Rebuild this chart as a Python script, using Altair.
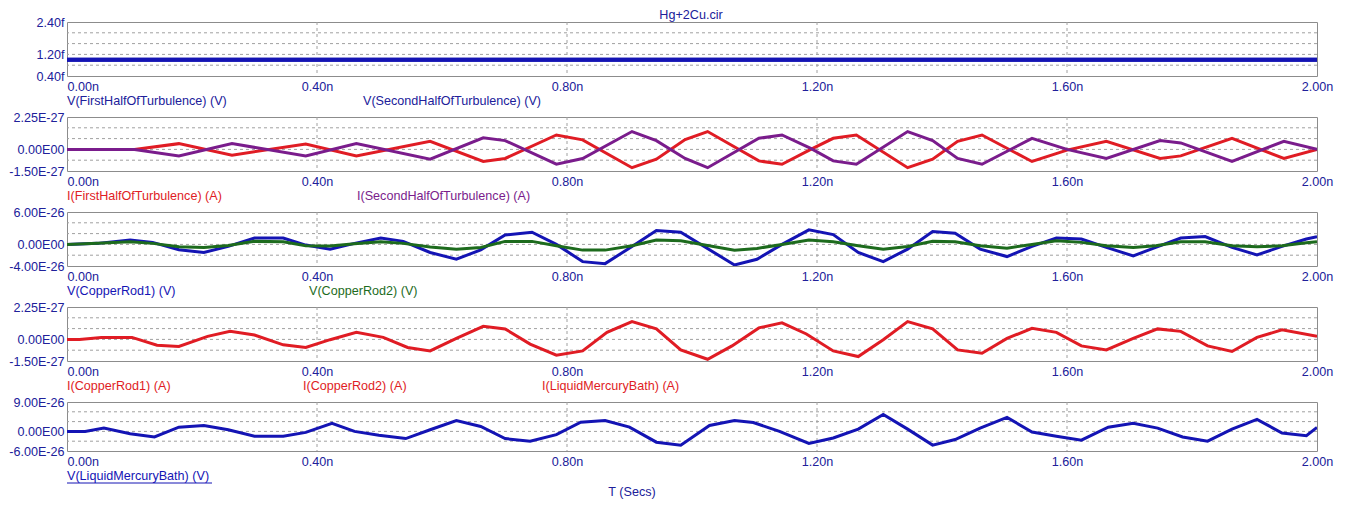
import altair as alt
import pandas as pd

# ---------------- data ----------------
x_ticks = [0.0, 0.4, 0.8, 1.2, 1.6, 2.0]          # ns
x_grid = [0.4, 0.8, 1.2, 1.6]

# Panel 1 (values in fV)
p1_t = [0.0, 2.0]
p1_first = [1.0, 1.0]
p1_second = [1.0, 1.0]
p1_domain = [0.4, 2.4]
p1_ticks = [0.4, 1.2, 2.4]
p1_labels = ["0.40f", "1.20f", "2.40f"]
p1_grid = [0.8, 1.2, 1.6, 2.0]
p1_names = ["V(FirstHalfOfTurbulence) (V)", "V(SecondHalfOfTurbulence) (V)"]

# Panel 2 (values in 1E-27 A)
p2_t = [0, 0.108, 0.179, 0.264, 0.382, 0.463, 0.581, 0.666, 0.701, 0.783, 0.825,
        0.904, 0.943, 0.989, 1.025, 1.107, 1.144, 1.190, 1.226, 1.263, 1.345, 1.385,
        1.425, 1.464, 1.544, 1.600, 1.663, 1.749, 1.782, 1.864, 1.947, 2.000]
p2_first = [0, 0, 0.40, -0.40, 0.375, -0.45, 0.56, -0.84, -0.63, 1.0, 0.66, -1.27,
            -0.68, 0.68, 1.24, -0.80, -1.03, 0, 0.77, 1.0, -1.27, -0.68, 0.56, 1.0,
            -0.84, -0.05, 0.56, -0.63, -0.45, 0.77, -0.63, 0]
p2_second = [0, 0, -0.45, 0.40, -0.45, 0.40, -0.68, 0.80, 0.61, -1.03, -0.63, 1.24,
             0.61, -0.63, -1.27, 0.77, 1.0, 0.07, -0.80, -1.03, 1.24, 0.61, -0.63,
             -1.03, 0.77, 0.0, -0.63, 0.61, 0.45, -0.84, 0.56, 0]
p2_domain = [-1.5, 2.25]
p2_ticks = [-1.5, 0.0, 2.25]
p2_labels = ["-1.50E-27", "0.00E00", "2.25E-27"]
p2_grid = [-0.75, 0.0, 0.75, 1.5]
p2_names = ["I(FirstHalfOfTurbulence) (A)", "I(SecondHalfOfTurbulence) (A)"]

# Panel 3 (values in 1E-26 V)
p3_t = [0, 0.049, 0.101, 0.137, 0.179, 0.219, 0.258, 0.300, 0.346, 0.382, 0.421,
        0.460, 0.502, 0.538, 0.581, 0.623, 0.662, 0.701, 0.744, 0.783, 0.825, 0.861,
        0.904, 0.943, 0.982, 1.068, 1.104, 1.144, 1.187, 1.226, 1.266, 1.306, 1.345,
        1.385, 1.421, 1.461, 1.504, 1.544, 1.583, 1.623, 1.663, 1.706, 1.742, 1.782,
        1.821, 1.864, 1.904, 1.944, 1.983, 2.0]
p3_rod1 = [0, 0.19, 0.81, 0.375, -1.0, -1.5, -0.375, 1.19, 1.19, -0.125, -0.875, 0.19,
           1.19, 0.56, -1.5, -2.75, -1.0, 1.75, 2.25, 0.0, -3.19, -3.56, -0.375, 2.56,
           2.25, -3.81, -2.75, 0.0, 2.69, 1.81, -1.5, -3.19, -0.875, 2.375, 2.06,
           -0.875, -2.25, -0.375, 1.19, 1.0, -0.56, -2.125, -0.56, 1.19, 1.44, -0.56,
           -1.94, -0.375, 1.0, 1.44]
p3_rod2 = [0, 0.19, 0.5, 0.19, -0.44, -0.56, -0.2, 0.56, 0.5, -0.25, -0.31, 0.1, 0.5,
           0.19, -0.5, -0.875, -0.56, 0.56, 0.56, -0.25, -1.06, -1.06, -0.25, 0.81,
           0.69, -1.06, -0.75, 0.0, 0.81, 0.5, -0.25, -0.875, -0.375, 0.56, 0.5, -0.25,
           -0.69, 0.0, 0.69, 0.375, -0.25, -0.56, -0.25, 0.5, 0.5, -0.25, -0.44, -0.25,
           0.3, 0.5]
p3_domain = [-4.0, 6.0]
p3_ticks = [-4.0, 0.0, 6.0]
p3_labels = ["-4.00E-26", "0.00E00", "6.00E-26"]
p3_grid = [-2.0, 0.0, 2.0, 4.0]
p3_names = ["V(CopperRod1) (V)", "V(CopperRod2) (V)"]

# Panel 4 (values in 1E-27 A)
p4_t = [0, 0.020, 0.055, 0.104, 0.144, 0.179, 0.225, 0.261, 0.300, 0.346, 0.382,
        0.421, 0.463, 0.506, 0.545, 0.581, 0.623, 0.666, 0.701, 0.741, 0.783, 0.825,
        0.864, 0.904, 0.943, 0.982, 1.025, 1.064, 1.107, 1.144, 1.183, 1.226, 1.266,
        1.306, 1.345, 1.385, 1.425, 1.464, 1.504, 1.544, 1.583, 1.623, 1.663, 1.706,
        1.745, 1.782, 1.825, 1.864, 1.904, 1.944, 2.0]
p4_current = [0, 0, 0.14, 0.14, -0.40, -0.49, 0.21, 0.56, 0.30, -0.375, -0.56, -0.02,
              0.49, 0.14, -0.56, -0.80, 0.07, 0.91, 0.73, -0.33, -1.10, -0.80, 0.49,
              1.24, 0.73, -0.73, -1.38, -0.45, 0.80, 1.15, 0.375, -0.80, -1.19, -0.02,
              1.24, 0.73, -0.73, -0.96, 0.07, 0.77, 0.49, -0.45, -0.73, 0.07, 0.73,
              0.56, -0.45, -0.84, 0.14, 0.66, 0.21]
p4_domain = [-1.5, 2.25]
p4_ticks = [-1.5, 0.0, 2.25]
p4_labels = ["-1.50E-27", "0.00E00", "2.25E-27"]
p4_grid = [-0.75, 0.0, 0.75, 1.5]
p4_names = ["I(CopperRod1) (A)", "I(CopperRod2) (A)", "I(LiquidMercuryBath) (A)"]

# Panel 5 (values in 1E-26 V)
p5_t = [0, 0.029, 0.059, 0.101, 0.140, 0.179, 0.219, 0.258, 0.300, 0.346, 0.382,
        0.424, 0.460, 0.499, 0.542, 0.581, 0.623, 0.662, 0.701, 0.741, 0.783, 0.822,
        0.861, 0.900, 0.943, 0.982, 1.028, 1.068, 1.098, 1.140, 1.187, 1.226, 1.266,
        1.306, 1.345, 1.385, 1.421, 1.461, 1.504, 1.544, 1.583, 1.623, 1.666, 1.706,
        1.745, 1.785, 1.825, 1.864, 1.904, 1.944, 1.983, 2.0]
p5_bath = [0, 0, 1.0, -0.7, -1.7, 1.3, 1.8, 0.5, -1.5, -1.5, -0.3, 2.5, 0, -1.2, -2.2,
           0.5, 3.3, 1.5, -2.2, -3.0, -1.0, 2.8, 3.3, 1.3, -3.3, -4.2, 1.8, 3.3, 2.7,
           0, -3.7, -2.0, 0.7, 5.2, 0.7, -4.2, -2.5, 1.0, 4.3, -0.2, -1.5, -2.7, 1.3,
           2.5, 1.0, -1.7, -3.0, 0.7, 3.7, -0.5, -1.3, 1.2]
p5_domain = [-6.0, 9.0]
p5_ticks = [-6.0, 0.0, 9.0]
p5_labels = ["-6.00E-26", "0.00E00", "9.00E-26"]
p5_grid = [-3.0, 0.0, 3.0, 6.0]
p5_names = ["V(LiquidMercuryBath) (V)"]

title_text = "Hg+2Cu.cir"
x_title = "T (Secs)"

# ---------------- styling ----------------
FONT = "Liberation Sans"
FS = 12.6
AXIS_BLUE = "#20209a"
BLUE = "#1414b4"
RED = "#e01c24"
PURPLE = "#7a1c8c"
GREEN = "#1d6b1d"
GRID = "#a0a0a0"
BORDER = "#8c8c8c"
W = 1250
H = 54
H5 = 49


def x_enc():
    return alt.X(
        "t:Q",
        scale=alt.Scale(domain=[0, 2.0], nice=False, zero=False),
        axis=alt.Axis(
            values=x_ticks, title=None, grid=False, ticks=False, domain=False,
            labelExpr="format(datum.value, '.2f') + 'n'",
            labelFont=FONT, labelFontSize=FS, labelColor=AXIS_BLUE,
            labelPadding=4, labelFlush=False, labelOverlap=False,
            labelAlign={"condition": {"test": "datum.value == 0", "value": "left"},
                        "value": "center"},
        ),
    )


def y_enc(domain, ticks, labels):
    expr = ""
    for v, lab in zip(ticks[:-1], labels[:-1]):
        expr += f"datum.value == {v} ? '{lab}' : "
    expr += f"'{labels[-1]}'"
    return alt.Y(
        "v:Q",
        scale=alt.Scale(domain=domain, nice=False, zero=False),
        axis=alt.Axis(
            values=ticks, title=None, grid=False, ticks=False, domain=False,
            labelExpr=expr, labelFont=FONT, labelFontSize=FS, labelColor=AXIS_BLUE,
            labelPadding=3, labelOverlap=False, labelFlush=False,
        ),
    )


def text_layer(text, px, py, color, align="left", baseline="middle"):
    return alt.Chart(pd.DataFrame({"a": [0]})).mark_text(
        text=text, align=align, baseline=baseline, font=FONT, fontSize=FS, color=color
    ).encode(x=alt.value(px), y=alt.value(py))


def panel(domain, ticks, labels, grid, series, legends, height, extra=()):
    xe = x_enc()
    ye = y_enc(domain, ticks, labels)
    layers = [
        alt.Chart(pd.DataFrame({"v": grid})).mark_rule(
            color=GRID, strokeDash=[3, 3], strokeWidth=1).encode(y=ye),
        alt.Chart(pd.DataFrame({"t": x_grid})).mark_rule(
            color=GRID, strokeDash=[3, 3], strokeWidth=1).encode(x=xe),
    ]
    for t, v, color, sw in series:
        layers.append(
            alt.Chart(pd.DataFrame({"t": t, "v": v})).mark_line(
                color=color, strokeWidth=sw, clip=True).encode(x=xe, y=ye)
        )
    for name, px, color in legends:
        layers.append(text_layer(name, px, height + 25, color))
    layers.extend(extra)
    return alt.layer(*layers).properties(width=W, height=height)


underline = alt.Chart(pd.DataFrame({"a": [0]})).mark_rule(
    color=BLUE, strokeWidth=1
).encode(x=alt.value(0), x2=alt.value(145), y=alt.value(H5 + 32))

c1 = panel(p1_domain, p1_ticks, p1_labels, p1_grid,
           [(p1_t, p1_second, BLUE, 4), (p1_t, p1_first, BLUE, 4)],
           [(p1_names[0], 0, AXIS_BLUE), (p1_names[1], 296, AXIS_BLUE)], H,
           extra=[text_layer(title_text, 624, -3, AXIS_BLUE, align="center",
                             baseline="alphabetic")])
c2 = panel(p2_domain, p2_ticks, p2_labels, p2_grid,
           [(p2_t, p2_first, RED, 3), (p2_t, p2_second, PURPLE, 3)],
           [(p2_names[0], 0, RED), (p2_names[1], 290, PURPLE)], H)
c3 = panel(p3_domain, p3_ticks, p3_labels, p3_grid,
           [(p3_t, p3_rod1, BLUE, 3), (p3_t, p3_rod2, GREEN, 3)],
           [(p3_names[0], 0, BLUE), (p3_names[1], 242, GREEN)], H)
c4 = panel(p4_domain, p4_ticks, p4_labels, p4_grid,
           [(p4_t, p4_current, RED, 3)],
           [(p4_names[0], 0, RED), (p4_names[1], 236, RED), (p4_names[2], 475, RED)], H)
c5 = panel(p5_domain, p5_ticks, p5_labels, p5_grid,
           [(p5_t, p5_bath, BLUE, 3)],
           [(p5_names[0], 0, BLUE)], H5,
           extra=[underline,
                  text_layer(x_title, 565, H5 + 41, AXIS_BLUE, align="center")])

chart = alt.vconcat(c1, c2, c3, c4, c5, spacing=41, bounds="flush").properties(
    padding={"left": 0, "top": 0, "right": 5, "bottom": 5},
    background="white",
).configure_view(stroke=BORDER, strokeWidth=1)

chart.save("out.html", embed_options={"renderer": "svg", "actions": False})
